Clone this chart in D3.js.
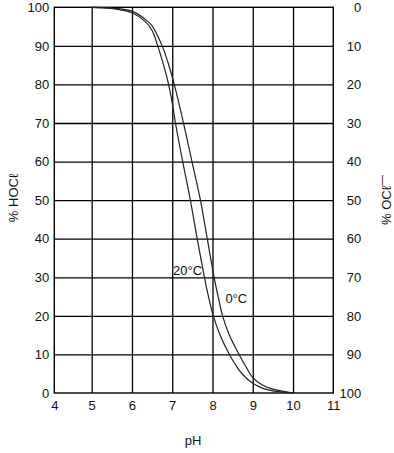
<!DOCTYPE html>
<html>
<head>
<meta charset="utf-8">
<script src="https://cdn.jsdelivr.net/npm/d3@7/dist/d3.min.js"></script>
<style>
  html, body { margin: 0; padding: 0; background: #fff; }
  svg text { font-family: "Liberation Sans", Arial, Helvetica, sans-serif; fill: #111; }
</style>
</head>
<body>
<svg id="chart" width="394" height="453"></svg>
<script>
// ---- data ----
const phTicks = [4, 5, 6, 7, 8, 9, 10, 11];
const hoclTicks = [0, 10, 20, 30, 40, 50, 60, 70, 80, 90, 100];
const oclTicks = [0, 10, 20, 30, 40, 50, 60, 70, 80, 90, 100];

const ph20 =   [5,   5.5,  6,    6.33, 6.5,  6.64, 6.8,  6.91, 7.0,  7.08, 7.26, 7.45, 7.62, 7.8, 7.9, 8.02, 8.19, 8.42, 8.58, 8.75, 9.0, 9.25, 9.5,  10];
const hocl20 = [100, 99.7, 98.6, 96.3, 94.0, 90,   84.5, 80,   75.2, 70,   60,   50,   40,   30,  25,  20,   15,   10,   7.2,  4.8,  2.5, 1.2,  0.55, 0];

const ph0 =    [5,   5.5,  6,    6.33, 6.5,  6.75, 6.9,  7.05, 7.28, 7.49, 7.7, 7.87, 8.04, 8.14, 8.25, 8.42, 8.66, 8.82, 9.0, 9.25, 9.5, 10];
const hocl0 =  [100, 99.8, 99.0, 96.9, 95.2, 90,   85.5, 80,   70,   60,   50,  40,   30,   25,   20,   15,   10,   7.0,  4.0, 2.0,  1.0, 0];

const curveLabels = [
  { text: "20°C", ph: 7.02, v: 30.6 },
  { text: "0°C",  ph: 8.32, v: 23.4 }
];

// ---- layout ----
const svg = d3.select("#chart");
const pL = 54.3, pR = 333.3, pT = 7.3, pB = 393;

const x = d3.scaleLinear().domain([4, 5, 11]).range([pL, 91.7, pR]);
const y = d3.scaleLinear().domain([0, 100]).range([pB, pT]);
const yR = d3.scaleLinear().domain([100, 0]).range([pB, pT]);

// grid (vertical)
svg.append("g")
  .attr("transform", `translate(0,${pB})`)
  .call(d3.axisBottom(x).tickValues(phTicks.slice(1, -1)).tickSize(-(pB - pT)).tickFormat(""))
  .call(g => g.select(".domain").remove())
  .call(g => g.selectAll("line").attr("stroke", "#000").attr("stroke-width", 1.3));

// grid (horizontal)
svg.append("g")
  .attr("transform", `translate(${pL},0)`)
  .call(d3.axisLeft(y).tickValues(hoclTicks.slice(1, -1)).tickSize(-(pR - pL)).tickFormat(""))
  .call(g => g.select(".domain").remove())
  .call(g => g.selectAll("line").attr("stroke", "#000").attr("stroke-width", 1.3));

// frame
svg.append("rect")
  .attr("x", pL).attr("y", pT)
  .attr("width", pR - pL).attr("height", pB - pT)
  .attr("fill", "none").attr("stroke", "#000").attr("stroke-width", 1.4);

// tick labels
const fs = 13;
svg.append("g")
  .attr("transform", `translate(0,${pB})`)
  .call(d3.axisBottom(x).tickValues(phTicks).tickSize(0).tickPadding(8).tickFormat(d3.format("d")))
  .call(g => g.select(".domain").remove())
  .call(g => g.selectAll("text").attr("font-size", fs).attr("font-family", null));

svg.append("g")
  .attr("transform", `translate(${pL},0)`)
  .call(d3.axisLeft(y).tickValues(hoclTicks).tickSize(0).tickPadding(5).tickFormat(d3.format("d")))
  .call(g => g.select(".domain").remove())
  .call(g => g.selectAll("text").attr("font-size", fs).attr("font-family", null));

svg.append("g")
  .attr("transform", `translate(${pR},0)`)
  .call(d3.axisRight(yR).tickValues(oclTicks).tickSize(0).tickPadding(28).tickFormat(d3.format("d")))
  .call(g => g.select(".domain").remove())
  .call(g => g.selectAll("text").attr("font-size", fs).attr("font-family", null).attr("text-anchor", "end"));

// curves
const line = d3.line().x(d => x(d[0])).y(d => y(d[1])).curve(d3.curveCatmullRom.alpha(0.5));
svg.append("path")
  .attr("d", line(ph20.map((p, i) => [p, hocl20[i]])))
  .attr("fill", "none").attr("stroke", "#222").attr("stroke-width", 1.2);
svg.append("path")
  .attr("d", line(ph0.map((p, i) => [p, hocl0[i]])))
  .attr("fill", "none").attr("stroke", "#222").attr("stroke-width", 1.2);

svg.selectAll(".clabel").data(curveLabels).join("text")
  .attr("class", "clabel")
  .attr("x", d => x(d.ph)).attr("y", d => y(d.v))
  .attr("font-size", fs)
  .text(d => d.text);

// axis titles
svg.append("text")
  .attr("x", 193).attr("y", 445)
  .attr("text-anchor", "middle").attr("font-size", fs)
  .text("pH");

svg.append("text")
  .attr("transform", "translate(18,198) rotate(-90)")
  .attr("text-anchor", "middle").attr("font-size", fs)
  .text("% HOCℓ");

const rt = svg.append("text")
  .attr("transform", "translate(391,200) rotate(-90)")
  .attr("text-anchor", "middle").attr("font-size", fs);
rt.append("tspan").text("% OCℓ");
rt.append("tspan").attr("dy", -6).attr("font-size", 11).text("—");
</script>
</body>
</html>
